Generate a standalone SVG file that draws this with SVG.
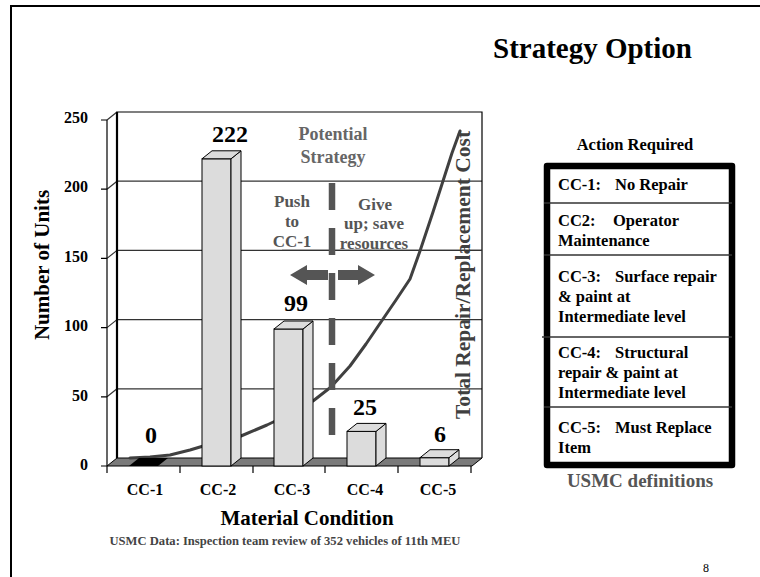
<svg xmlns="http://www.w3.org/2000/svg" width="760" height="577" viewBox="0 0 760 577">
<style>
text{font-family:"Liberation Serif","Times New Roman",serif;font-weight:bold;fill:#000}
.grid{stroke:#333;stroke-width:1.2;fill:none}
.bar{fill:#dcdcdc;stroke:#000;stroke-width:1}
.ax{stroke:#000;stroke-width:1.2;fill:none}
.ylab{font-size:16px;text-anchor:end}
.val{font-size:24px;text-anchor:middle}
.cat{font-size:16px;text-anchor:middle}
.strat{fill:#555;font-size:17px;text-anchor:middle}
.row{font-size:16.5px}
.div{stroke:#333;stroke-width:1.5}
</style>
<rect width="760" height="577" fill="#fff"/>
<g id="frame">
<path d="M11,577 V6 H760" fill="none" stroke="#000" stroke-width="2"/>
</g>
<text id="title" x="493" y="58" font-size="29">Strategy Option</text>

<g id="chart">
<!-- back wall gridlines -->
<g id="gridlines">
<line class="grid" x1="117" y1="388.8" x2="482" y2="388.8"/>
<line class="grid" x1="117" y1="319.6" x2="482" y2="319.6"/>
<line class="grid" x1="117" y1="250.4" x2="482" y2="250.4"/>
<line class="grid" x1="117" y1="181.2" x2="482" y2="181.2"/>
<line class="grid" x1="107" y1="396.8" x2="117" y2="388.8"/>
<line class="grid" x1="107" y1="327.6" x2="117" y2="319.6"/>
<line class="grid" x1="107" y1="258.4" x2="117" y2="250.4"/>
<line class="grid" x1="107" y1="189.2" x2="117" y2="181.2"/>
<line class="grid" x1="107" y1="120" x2="117" y2="112"/>
</g>
<g id="walls">
<path class="ax" d="M117,458 V112 H482 V458"/>
<line x1="117" y1="112" x2="117" y2="458" stroke="#000" stroke-width="2.2"/>
<line class="ax" x1="107" y1="120" x2="107" y2="466"/>
<polygon points="107,466 117,458 482,458 472,466" fill="#7a7a7a" stroke="#000" stroke-width="1"/>
</g>
<g id="ticks" class="ax">
<path d="M101,120 H107 M101,189.2 H107 M101,258.4 H107 M101,327.6 H107 M101,396.8 H107 M101,466 H107"/>
<path d="M107,466 V473 M180,466 V473 M253,466 V473 M325,466 V473 M398,466 V473 M471,466 V473"/>
</g>
<g id="ylabels">
<text class="ylab" x="88" y="123">250</text>
<text class="ylab" x="88" y="192">200</text>
<text class="ylab" x="88" y="262">150</text>
<text class="ylab" x="88" y="331">100</text>
<text class="ylab" x="88" y="401">50</text>
<text class="ylab" x="88" y="470">0</text>
</g>
<text id="ytitle" transform="translate(49,265) rotate(-90)" font-size="21" text-anchor="middle">Number of Units</text>

<g id="strategy-text">
<text x="333" y="140" font-size="18" text-anchor="middle" fill="#666" style="fill:#666">Potential</text>
<text x="333" y="163" font-size="18" text-anchor="middle" style="fill:#666">Strategy</text>
<text class="strat" x="292" y="207">Push</text>
<text class="strat" x="292" y="227">to</text>
<text class="strat" x="292" y="247">CC-1</text>
<text class="strat" x="375" y="210">Give</text>
<text class="strat" x="374" y="229">up; save</text>
<text class="strat" x="374" y="249">resources</text>
</g>
<line x1="282" y1="250.4" x2="482" y2="250.4" class="grid"/>

<path id="cost-curve" d="M130,458 L150,457 L170,455 L190,450 L210,444 L241,436 L267,425 L290,414 L313,401 L331,387 L350,366 L366,344 L383,319 L396,300 L410,279 L420,251 L433,212 L443,181 L452,153 L460,131" fill="none" stroke="#404040" stroke-width="3" stroke-linejoin="round" stroke-linecap="round"/>

<g id="bars">
<g id="bar-cc1"><polygon points="129,466 158,466 168,458 139,458" fill="#000"/></g>
<g id="bar-cc2">
<rect class="bar" x="202" y="158.8" width="29" height="307.2"/>
<polygon class="bar" points="231,158.8 241,150.8 241,458 231,466"/>
<polygon class="bar" points="202,158.8 212,150.8 241,150.8 231,158.8"/>
</g>
<g id="bar-cc3">
<rect class="bar" x="274" y="329" width="29" height="137"/>
<polygon class="bar" points="303,329 313,321 313,458 303,466"/>
<polygon class="bar" points="274,329 284,321 313,321 303,329"/>
</g>
<g id="bar-cc4">
<rect class="bar" x="347" y="431.4" width="29" height="34.6"/>
<polygon class="bar" points="376,431.4 386,423.4 386,458 376,466"/>
<polygon class="bar" points="347,431.4 357,423.4 386,423.4 376,431.4"/>
</g>
<g id="bar-cc5">
<rect class="bar" x="420" y="457.7" width="29" height="8.3"/>
<polygon class="bar" points="449,457.7 459,449.7 459,458 449,466"/>
<polygon class="bar" points="420,457.7 430,449.7 459,449.7 449,457.7"/>
</g>
</g>

<g id="values">
<text class="val" x="151" y="443">0</text>
<text class="val" x="230" y="142">222</text>
<text class="val" x="296" y="311">99</text>
<text class="val" x="365" y="415">25</text>
<text class="val" x="440" y="442">6</text>
</g>

<g id="strategy-marks" fill="#555">
<line x1="332" y1="183" x2="332" y2="435" stroke="#555" stroke-width="6.5" stroke-dasharray="27 18"/>
<polygon points="290,275 307,265 307,270 328,270 328,280 307,280 307,285"/>
<polygon points="375,275 358,265 358,270 338,270 338,280 358,280 358,285"/>
</g>

<text id="y2title" transform="translate(470,275) rotate(-90)" font-size="21.5" text-anchor="middle" style="fill:#404040">Total Repair/Replacement Cost</text>

<g id="xlabels">
<text class="cat" x="145" y="495">CC-1</text>
<text class="cat" x="218" y="495">CC-2</text>
<text class="cat" x="292" y="495">CC-3</text>
<text class="cat" x="365" y="495">CC-4</text>
<text class="cat" x="438" y="495">CC-5</text>
</g>
<text id="xtitle" x="307" y="525" font-size="21" text-anchor="middle">Material Condition</text>
<text id="source" x="285" y="545" font-size="12.6" text-anchor="middle" style="fill:#444">USMC Data:  Inspection team review of 352 vehicles of 11th MEU</text>
</g>

<g id="table">
<text x="635" y="150" font-size="16.5" text-anchor="middle">Action Required</text>
<rect x="547" y="166" width="185" height="299" fill="#fff" stroke="#000" stroke-width="6.5" stroke-linejoin="round"/>
<line class="div" x1="544" y1="203" x2="732" y2="203"/>
<line class="div" x1="544" y1="255" x2="732" y2="255"/>
<line class="div" x1="542" y1="337" x2="732" y2="337"/>
<line class="div" x1="544" y1="407" x2="732" y2="407"/>
<g id="row1"><text class="row" x="558" y="190">CC-1:</text><text class="row" x="615" y="190">No Repair</text></g>
<g id="row2"><text class="row" x="558" y="226">CC2:</text><text class="row" x="613" y="226">Operator</text><text class="row" x="558" y="246">Maintenance</text></g>
<g id="row3"><text class="row" x="558" y="282">CC-3:</text><text class="row" x="615" y="282">Surface repair</text><text class="row" x="558" y="302">&amp; paint at</text><text class="row" x="558" y="322">Intermediate level</text></g>
<g id="row4"><text class="row" x="558" y="358">CC-4:</text><text class="row" x="615" y="358">Structural</text><text class="row" x="558" y="378">repair &amp; paint at</text><text class="row" x="558" y="398">Intermediate level</text></g>
<g id="row5"><text class="row" x="558" y="433">CC-5:</text><text class="row" x="615" y="433">Must Replace</text><text class="row" x="558" y="453">Item</text></g>
<text x="640" y="487" font-size="19" text-anchor="middle" style="fill:#555">USMC definitions</text>
</g>

<text id="page-number" x="703" y="572" font-size="12" style="font-weight:normal">8</text>
</svg>
